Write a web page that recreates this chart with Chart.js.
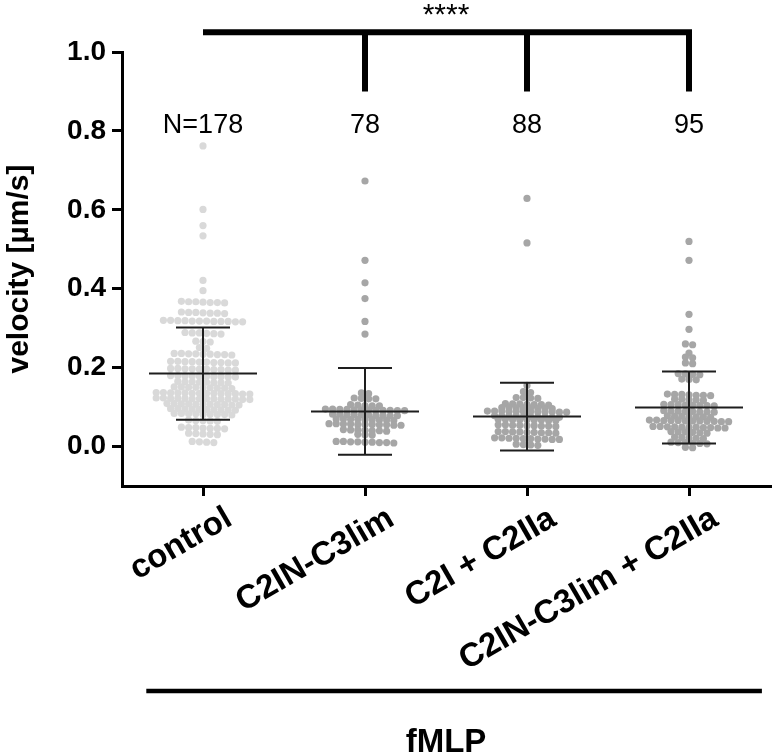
<!DOCTYPE html>
<html>
<head>
<meta charset="utf-8">
<script src="https://cdn.jsdelivr.net/npm/chart.js@4.4.1/dist/chart.umd.min.js"></script>
<style>
  body { margin: 0; background: #fff; }
  #wrap { width: 774px; height: 755px; }
</style>
</head>
<body>
<div id="wrap"><canvas id="chart" width="774" height="755"></canvas></div>
<script>
const categories = ['control', 'C2IN-C3lim', 'C2I + C2IIa', 'C2IN-C3lim + C2IIa'];
const nLabels = ['N=178', '78', '88', '95'];
const yTicks = [0, 0.2, 0.4, 0.6, 0.8, 1.0];

// mean and SD
const means = [0.185, 0.089, 0.076, 0.099];
const sds = [0.117, 0.110, 0.086, 0.091];

// velocities (µm/s) per cell
const controlVals = [
  0.762, 0.601, 0.560, 0.534, 0.421, 0.395,
  0.367, 0.365, 0.368, 0.364, 0.366, 0.367, 0.365,
  0.340, 0.338, 0.341, 0.337, 0.339, 0.340, 0.338,
  0.318, 0.317, 0.320, 0.316, 0.319, 0.318, 0.317, 0.320, 0.316, 0.319, 0.318, 0.317,
  0.288, 0.286, 0.289, 0.285, 0.287, 0.288,
  0.267, 0.265, 0.266,
  0.251, 0.249,
  0.235, 0.233, 0.236, 0.232, 0.234, 0.235, 0.233, 0.234, 0.236,
  0.215, 0.213, 0.216, 0.212, 0.214, 0.215, 0.213, 0.214, 0.216, 0.212,
  0.197, 0.195, 0.198, 0.194, 0.196, 0.197, 0.195, 0.196, 0.198, 0.194,
  0.179, 0.177, 0.180, 0.176, 0.178, 0.179, 0.177, 0.178, 0.180, 0.176,
  0.164, 0.162, 0.165, 0.161, 0.163, 0.164, 0.162, 0.163,
  0.150, 0.148, 0.151, 0.147, 0.149, 0.150, 0.148, 0.149, 0.151,
  0.136, 0.134, 0.137, 0.133, 0.135, 0.136, 0.134, 0.135, 0.137, 0.133, 0.136, 0.134, 0.135, 0.135,
  0.122, 0.120, 0.123, 0.119, 0.121, 0.122, 0.120, 0.121, 0.123, 0.119, 0.122, 0.120, 0.121, 0.121,
  0.108, 0.106, 0.109, 0.105, 0.107, 0.108, 0.106, 0.107, 0.109, 0.105, 0.107,
  0.095, 0.093, 0.096, 0.092, 0.094, 0.095, 0.093, 0.094, 0.096, 0.092,
  0.083, 0.081, 0.084, 0.080, 0.082, 0.083, 0.081, 0.082, 0.084,
  0.066, 0.065, 0.067, 0.064, 0.066,
  0.048, 0.046, 0.049, 0.045, 0.047, 0.048, 0.046,
  0.033, 0.031, 0.034, 0.030, 0.032,
  0.013, 0.011, 0.012, 0.010
];
const c3limVals = [
  0.673, 0.472, 0.415, 0.375, 0.317, 0.285,
  0.136, 0.134,
  0.123, 0.121, 0.122, 0.121,
  0.105, 0.103, 0.104, 0.106, 0.103,
  0.094, 0.092, 0.095, 0.091, 0.093, 0.094, 0.092, 0.093, 0.095, 0.091, 0.093, 0.092,
  0.081, 0.079, 0.082, 0.078, 0.080, 0.081, 0.079, 0.080, 0.082, 0.078,
  0.069, 0.067, 0.070, 0.066, 0.068, 0.069, 0.067, 0.068, 0.070,
  0.057, 0.055, 0.058, 0.054, 0.056, 0.057, 0.055, 0.056, 0.058, 0.054, 0.056,
  0.042, 0.040, 0.043, 0.039, 0.041, 0.042, 0.040,
  0.031, 0.029, 0.030,
  0.012, 0.010, 0.013, 0.009, 0.011, 0.012, 0.010, 0.011, 0.013
];
const c2Vals = [
  0.629, 0.516, 0.155, 0.139, 0.137, 0.131,
  0.124, 0.123, 0.122, 0.124,
  0.108, 0.106, 0.109, 0.105, 0.107, 0.108, 0.106,
  0.099, 0.097, 0.098, 0.096, 0.098, 0.099, 0.097, 0.098,
  0.090, 0.088, 0.089, 0.087, 0.090, 0.088, 0.089, 0.087, 0.090, 0.088, 0.089, 0.088,
  0.077, 0.075, 0.078, 0.074, 0.076, 0.077, 0.075, 0.076, 0.078, 0.074,
  0.069, 0.067, 0.068, 0.066, 0.069, 0.067, 0.068, 0.066, 0.068,
  0.054, 0.052, 0.055, 0.051, 0.053, 0.054, 0.052, 0.053, 0.055,
  0.037, 0.035, 0.038, 0.034, 0.036, 0.037, 0.035, 0.036, 0.038,
  0.021, 0.019, 0.022, 0.018, 0.020, 0.021, 0.019, 0.020, 0.022, 0.018,
  0.006, 0.004, 0.005, 0.003
];
const comboVals = [
  0.520, 0.472, 0.335, 0.297, 0.260, 0.258, 0.237, 0.227, 0.225, 0.212, 0.210,
  0.184, 0.182, 0.183, 0.185,
  0.171, 0.169, 0.170,
  0.132, 0.130, 0.133, 0.129, 0.131, 0.132, 0.130,
  0.120, 0.118, 0.119, 0.117, 0.120,
  0.106, 0.104, 0.107, 0.103, 0.105, 0.106, 0.104, 0.105,
  0.090, 0.088, 0.091, 0.087, 0.089, 0.090, 0.088, 0.089,
  0.077, 0.075, 0.078, 0.074, 0.076, 0.077, 0.075,
  0.066, 0.064, 0.067, 0.063, 0.065, 0.066, 0.064, 0.065, 0.067, 0.063, 0.065, 0.066,
  0.050, 0.048, 0.051, 0.047, 0.049, 0.050, 0.048, 0.049, 0.051, 0.047, 0.049,
  0.037, 0.035, 0.038, 0.034, 0.036, 0.037,
  0.023, 0.021, 0.024, 0.020, 0.022,
  0.010, 0.008, 0.011, 0.007, 0.009, 0.010,
  -0.002, -0.003
];

const FONT = '"Liberation Sans", Arial, sans-serif';
const DOT_GAP = 7.2;      // px between dots in a row
const PX_PER_UNIT = 162;  // px per category on x

// lay points out in rows like a graphpad scatter
const swarm = (vals, groupIdx) => {
  const sorted = vals.slice().sort((a, b) => b - a);
  const rows = [];
  let cur = null;
  sorted.forEach((v) => {
    if (cur && cur.start - v <= 0.0065) {
      cur.items.push(v);
    } else {
      cur = { start: v, items: [v] };
      rows.push(cur);
    }
  });
  const pts = [];
  rows.forEach((r) => {
    const n = r.items.length;
    r.items.forEach((v, i) => {
      pts.push({ x: groupIdx + (i - (n - 1) / 2) * DOT_GAP / PX_PER_UNIT, y: v });
    });
  });
  return pts;
};

const allVals = [controlVals, c3limVals, c2Vals, comboVals];
const dotColors = ['#d9d9d9', '#a6a6a6', '#a6a6a6', '#a6a6a6'];

const datasets = allVals.map((vals, i) => ({
  data: swarm(vals, i),
  backgroundColor: dotColors[i],
  borderWidth: 0,
  pointRadius: 3.6,
  pointHoverRadius: 3.6
}));

const overlay = {
  id: 'overlay',
  afterDatasetsDraw(chart) {
    const { ctx, scales: { x, y } } = chart;
    ctx.save();
    ctx.strokeStyle = '#1e1e1e';
    ctx.lineWidth = 2;
    means.forEach((m, i) => {
      const cx = x.getPixelForValue(i);
      const ym = y.getPixelForValue(m);
      const yt = y.getPixelForValue(m + sds[i]);
      const yb = y.getPixelForValue(m - sds[i]);
      ctx.beginPath();
      ctx.moveTo(cx - 54, ym); ctx.lineTo(cx + 54, ym);
      ctx.moveTo(cx, yt); ctx.lineTo(cx, yb);
      ctx.moveTo(cx - 27, yt); ctx.lineTo(cx + 27, yt);
      ctx.moveTo(cx - 27, yb); ctx.lineTo(cx + 27, yb);
      ctx.stroke();
    });
    ctx.restore();
  },
  afterDraw(chart) {
    const { ctx, chartArea, scales: { x, y } } = chart;
    ctx.save();
    ctx.fillStyle = '#000';
    ctx.strokeStyle = '#000';

    // significance bracket
    const yb = y.getPixelForValue(1.05);
    const yd = y.getPixelForValue(0.9);
    ctx.lineWidth = 6;
    ctx.beginPath();
    ctx.moveTo(x.getPixelForValue(0), yb);
    ctx.lineTo(x.getPixelForValue(3) + 3, yb);
    [1, 2, 3].forEach((i) => {
      ctx.moveTo(x.getPixelForValue(i), yb);
      ctx.lineTo(x.getPixelForValue(i), yd);
    });
    ctx.stroke();
    ctx.font = '30px ' + FONT;
    ctx.textAlign = 'center';
    ctx.textBaseline = 'alphabetic';
    ctx.fillText('****', (x.getPixelForValue(0) + x.getPixelForValue(3)) / 2, yb - 8);

    // n per group
    ctx.font = '27px ' + FONT;
    nLabels.forEach((t, i) => {
      ctx.fillText(t, x.getPixelForValue(i), y.getPixelForValue(0.795));
    });

    // rotated category labels
    ctx.font = 'bold 33px ' + FONT;
    ctx.textAlign = 'right';
    categories.forEach((c, i) => {
      ctx.save();
      ctx.translate(x.getPixelForValue(i) + 31, chartArea.bottom + 38);
      ctx.rotate(-30 * Math.PI / 180);
      ctx.fillText(c, 0, 0);
      ctx.restore();
    });

    // fMLP group line
    ctx.lineWidth = 4.5;
    ctx.beginPath();
    ctx.moveTo(x.getPixelForValue(-0.35), chartArea.bottom + 205);
    ctx.lineTo(x.getPixelForValue(3.45), chartArea.bottom + 205);
    ctx.stroke();
    ctx.font = 'bold 33px ' + FONT;
    ctx.textAlign = 'center';
    ctx.fillText('fMLP', x.getPixelForValue(1.5), chartArea.bottom + 266);
    ctx.restore();
  }
};

new Chart(document.getElementById('chart'), {
  type: 'scatter',
  data: { datasets: datasets },
  options: {
    responsive: false,
    animation: false,
    layout: { padding: { top: 52, right: 4, left: 0, bottom: 0 } },
    plugins: { legend: { display: false }, tooltip: { enabled: false } },
    scales: {
      x: {
        type: 'linear',
        min: -0.5,
        max: 3.5,
        afterBuildTicks: (scale) => {
          scale.ticks = categories.map((c, i) => ({ value: i }));
        },
        afterFit: (scale) => { scale.height = 269; },
        ticks: { display: false },
        grid: { drawOnChartArea: false, drawTicks: true, tickLength: 10, color: '#000', lineWidth: 3 },
        border: { display: true, color: '#000', width: 3 }
      },
      y: {
        min: -0.1,
        max: 1.0,
        afterBuildTicks: (scale) => {
          scale.ticks = yTicks.map((v) => ({ value: v }));
        },
        afterFit: (scale) => { scale.width = 122; },
        ticks: {
          color: '#000',
          padding: 6,
          font: { family: FONT, size: 28, weight: 'bold' },
          callback: (v) => Number(v).toFixed(1)
        },
        grid: { drawOnChartArea: false, drawTicks: true, tickLength: 10, color: '#000', lineWidth: 3 },
        border: { display: true, color: '#000', width: 3 },
        title: {
          display: true,
          text: 'velocity [µm/s]',
          color: '#000',
          font: { family: FONT, size: 30, weight: 'bold' },
          padding: { top: 2, bottom: 4 }
        }
      }
    }
  },
  plugins: [overlay]
});
</script>
</body>
</html>
